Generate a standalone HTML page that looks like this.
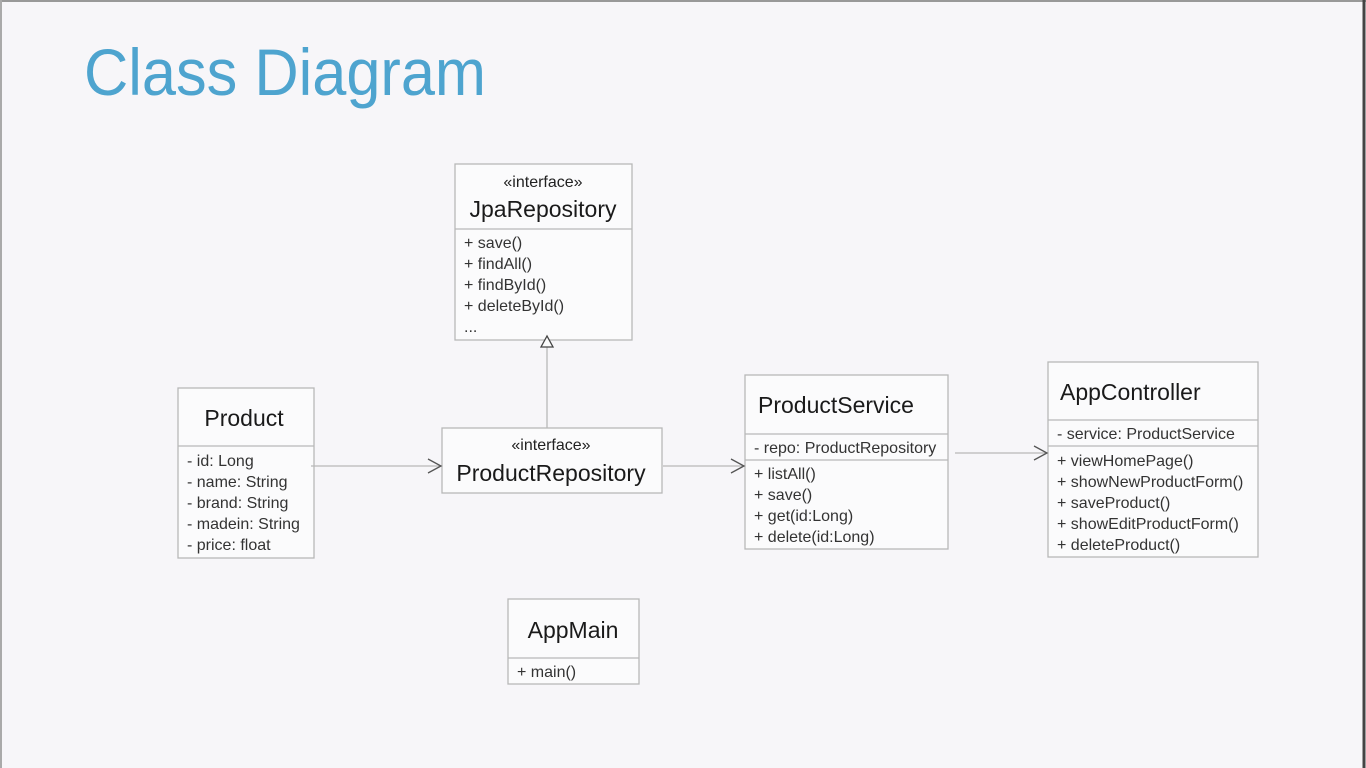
<!DOCTYPE html>
<html><head><meta charset="utf-8"><style>
html,body{margin:0;padding:0;background:#f7f6f9;}
svg{display:block;}
text{font-family:"Liberation Sans",Arial,sans-serif;fill:#222;}
.m{font-size:16px;fill:#333;}
.n{font-size:23px;fill:#1a1a1a;}
.s{font-size:16px;fill:#222;}
rect{fill:#fbfbfc;stroke:#b8b8b8;stroke-width:1.3;}
.l{stroke:#b8b8b8;stroke-width:1.3;fill:none;}
.a{stroke:#555;stroke-width:1.3;fill:none;}
</style></head><body>
<svg width="1366" height="768" viewBox="0 0 1366 768">
<rect x="0" y="0" width="1366" height="768" style="fill:#f7f6f9;stroke:none"/>
<line x1="0" y1="1" x2="1366" y2="1" style="stroke:#999;stroke-width:2"/>
<line x1="1364" y1="0" x2="1364" y2="768" style="stroke:#444;stroke-width:3"/>
<line x1="1" y1="0" x2="1" y2="768" style="stroke:#aaa;stroke-width:2"/>
<text x="84" y="95" style="font-size:66px;fill:#4ea4cf" textLength="402" lengthAdjust="spacingAndGlyphs">Class Diagram</text>

<rect x="455" y="164" width="177" height="176"/>
<line class="l" x1="455" y1="229" x2="632" y2="229"/>
<text class="s" x="543" y="187" text-anchor="middle">«interface»</text>
<text class="n" x="543" y="217" text-anchor="middle">JpaRepository</text>
<text class="m" x="464" y="248">+ save()</text>
<text class="m" x="464" y="269">+ findAll()</text>
<text class="m" x="464" y="290">+ findById()</text>
<text class="m" x="464" y="311">+ deleteById()</text>
<text class="m" x="464" y="332">...</text>

<line class="l" x1="547" y1="428" x2="547" y2="347"/>
<polygon points="547,336 541,347 553,347" style="fill:#fbfbfc;stroke:#444;stroke-width:1.3"/>

<rect x="442" y="428" width="220" height="65"/>
<text class="s" x="551" y="450" text-anchor="middle">«interface»</text>
<text class="n" x="551" y="481" text-anchor="middle">ProductRepository</text>

<rect x="178" y="388" width="136" height="170"/>
<line class="l" x1="178" y1="446" x2="314" y2="446"/>
<text class="n" x="244" y="426" text-anchor="middle">Product</text>
<text class="m" x="187" y="466">- id: Long</text>
<text class="m" x="187" y="487">- name: String</text>
<text class="m" x="187" y="508">- brand: String</text>
<text class="m" x="187" y="529">- madein: String</text>
<text class="m" x="187" y="550">- price: float</text>

<rect x="745" y="375" width="203" height="174"/>
<line class="l" x1="745" y1="434" x2="948" y2="434"/>
<line class="l" x1="745" y1="460" x2="948" y2="460"/>
<text class="n" x="758" y="413">ProductService</text>
<text class="m" x="754" y="453">- repo: ProductRepository</text>
<text class="m" x="754" y="479">+ listAll()</text>
<text class="m" x="754" y="500">+ save()</text>
<text class="m" x="754" y="521">+ get(id:Long)</text>
<text class="m" x="754" y="542">+ delete(id:Long)</text>

<rect x="1048" y="362" width="210" height="195"/>
<line class="l" x1="1048" y1="420" x2="1258" y2="420"/>
<line class="l" x1="1048" y1="446" x2="1258" y2="446"/>
<text class="n" x="1060" y="400">AppController</text>
<text class="m" x="1057" y="439">- service: ProductService</text>
<text class="m" x="1057" y="466">+ viewHomePage()</text>
<text class="m" x="1057" y="487">+ showNewProductForm()</text>
<text class="m" x="1057" y="508">+ saveProduct()</text>
<text class="m" x="1057" y="529">+ showEditProductForm()</text>
<text class="m" x="1057" y="550">+ deleteProduct()</text>

<rect x="508" y="599" width="131" height="85"/>
<line class="l" x1="508" y1="658" x2="639" y2="658"/>
<text class="n" x="573" y="638" text-anchor="middle">AppMain</text>
<text class="m" x="517" y="677">+ main()</text>

<line class="l" x1="311" y1="466" x2="441" y2="466"/>
<polyline class="a" points="428,459 441,466 428,473"/>
<line class="l" x1="663" y1="466" x2="744" y2="466"/>
<polyline class="a" points="731,459 744,466 731,473"/>
<line class="l" x1="955" y1="453" x2="1047" y2="453"/>
<polyline class="a" points="1034,446 1047,453 1034,460"/>
</svg>
</body></html>
